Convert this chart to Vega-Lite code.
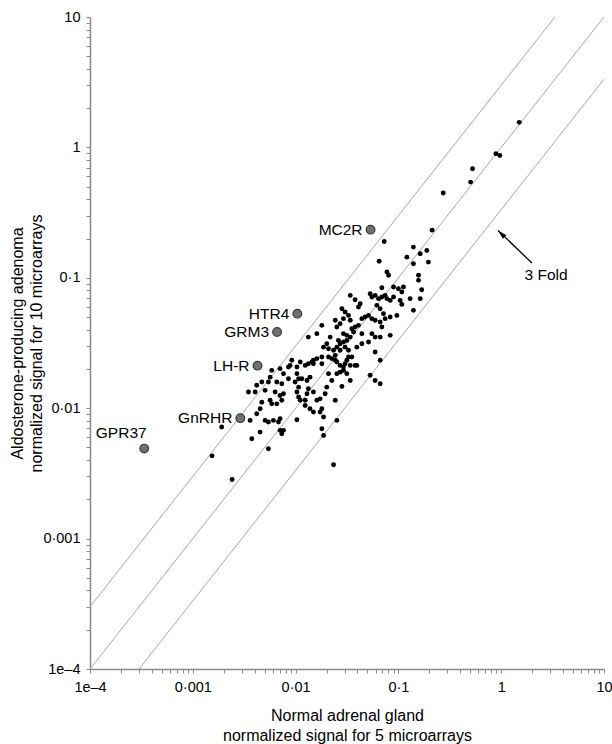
{
  "$schema": "https://vega.github.io/schema/vega-lite/v6.json",
  "width": 514,
  "height": 652,
  "autosize": {"type": "none"},
  "padding": {"left": 90, "top": 17, "right": 8, "bottom": 75},
  "config": {
    "font": "Liberation Sans",
    "view": {"stroke": null},
    "axis": {"grid": false}
  },
  "datasets": {
    "pts": [
      {"x":0.0728,"y":0.190},{"x":0.0650,"y":0.134},{"x":0.140,"y":0.172},{"x":0.163,"y":0.153},{"x":0.189,"y":0.162},
      {"x":0.196,"y":0.132},{"x":0.121,"y":0.144},{"x":0.140,"y":0.128},{"x":0.157,"y":0.1045},{"x":0.157,"y":0.0956},
      {"x":0.0773,"y":0.111},{"x":0.0802,"y":0.1045},{"x":0.0690,"y":0.0839},{"x":0.0897,"y":0.0849},{"x":0.100,"y":0.0825},
      {"x":0.108,"y":0.0778},{"x":0.112,"y":0.0849},{"x":0.130,"y":0.0692},{"x":0.163,"y":0.0692},{"x":0.104,"y":0.0671},
      {"x":0.108,"y":0.0625},{"x":0.0966,"y":0.0515},{"x":0.140,"y":0.0563},{"x":0.0340,"y":0.0733},{"x":0.0379,"y":0.0679},
      {"x":0.0425,"y":0.0633},{"x":0.0409,"y":0.0597},{"x":0.0531,"y":0.0755},{"x":0.0552,"y":0.0712},{"x":0.0594,"y":0.0733},
      {"x":0.0641,"y":0.0692},{"x":0.0690,"y":0.0712},{"x":0.0743,"y":0.0733},{"x":0.0773,"y":0.0692},{"x":0.0832,"y":0.0671},
      {"x":0.0617,"y":0.0615},{"x":0.0665,"y":0.0579},{"x":0.0716,"y":0.0531},{"x":0.0743,"y":0.0486},{"x":0.0897,"y":0.0712},
      {"x":0.0282,"y":0.0579},{"x":0.0303,"y":0.0546},{"x":0.0327,"y":0.0515},{"x":0.0340,"y":0.0472},{"x":0.0292,"y":0.0486},
      {"x":0.0271,"y":0.0445},{"x":0.0252,"y":0.0419},{"x":0.0243,"y":0.0472},{"x":0.0441,"y":0.0486},{"x":0.0475,"y":0.0500},
      {"x":0.0512,"y":0.0515},{"x":0.0552,"y":0.0486},{"x":0.0594,"y":0.0472},{"x":0.0665,"y":0.0458},{"x":0.0409,"y":0.0432},
      {"x":0.0379,"y":0.0419},{"x":0.0352,"y":0.0407},{"x":0.0366,"y":0.0384},{"x":0.0340,"y":0.0351},{"x":0.0315,"y":0.0362},
      {"x":0.0292,"y":0.0373},{"x":0.0315,"y":0.0331},{"x":0.0292,"y":0.0322},{"x":0.0261,"y":0.0331},{"x":0.0271,"y":0.0312},
      {"x":0.0252,"y":0.0294},{"x":0.0303,"y":0.0294},{"x":0.0271,"y":0.0278},{"x":0.0327,"y":0.0278},{"x":0.0327,"y":0.0247},
      {"x":0.0315,"y":0.0233},{"x":0.0352,"y":0.0247},{"x":0.0394,"y":0.0294},{"x":0.0441,"y":0.0373},{"x":0.0441,"y":0.0312},
      {"x":0.0512,"y":0.0322},{"x":0.0552,"y":0.0373},{"x":0.0594,"y":0.0351},{"x":0.0665,"y":0.0351},{"x":0.0832,"y":0.0362},
      {"x":0.0690,"y":0.0419},{"x":0.0832,"y":0.0500},{"x":0.0180,"y":0.0432},{"x":0.0133,"y":0.0351},{"x":0.0161,"y":0.0373},
      {"x":0.0217,"y":0.0351},{"x":0.0201,"y":0.0312},{"x":0.0187,"y":0.0294},{"x":0.0209,"y":0.0286},{"x":0.0234,"y":0.0278},
      {"x":0.0243,"y":0.0254},{"x":0.0209,"y":0.0247},{"x":0.0225,"y":0.0240},{"x":0.0243,"y":0.0233},{"x":0.0252,"y":0.0226},
      {"x":0.0271,"y":0.0213},{"x":0.0292,"y":0.0207},{"x":0.0303,"y":0.0219},{"x":0.0340,"y":0.0213},{"x":0.0379,"y":0.0213},
      {"x":0.0180,"y":0.0247},{"x":0.0161,"y":0.0240},{"x":0.0149,"y":0.0233},{"x":0.0144,"y":0.0226},{"x":0.0133,"y":0.0219},
      {"x":0.0124,"y":0.0213},{"x":0.0111,"y":0.0226},{"x":0.0103,"y":0.0207},{"x":0.00918,"y":0.0233},{"x":0.00885,"y":0.0213},
      {"x":0.00852,"y":0.0207},{"x":0.00706,"y":0.0201},{"x":0.00762,"y":0.0184},{"x":0.00852,"y":0.0168},{"x":0.00734,"y":0.0154},
      {"x":0.00656,"y":0.0159},{"x":0.00565,"y":0.0173},{"x":0.00586,"y":0.0195},{"x":0.00544,"y":0.0159},{"x":0.00469,"y":0.0159},
      {"x":0.00419,"y":0.0150},{"x":0.00404,"y":0.0133},{"x":0.00348,"y":0.0133},{"x":0.00505,"y":0.0137},{"x":0.00632,"y":0.0133},
      {"x":0.00706,"y":0.0125},{"x":0.00762,"y":0.0129},{"x":0.00734,"y":0.0115},{"x":0.00656,"y":0.0108},{"x":0.00586,"y":0.0108},
      {"x":0.00565,"y":0.0115},{"x":0.00469,"y":0.0111},{"x":0.00452,"y":0.00991},{"x":0.00419,"y":0.00907},{"x":0.00361,"y":0.00806},
      {"x":0.00375,"y":0.00583},{"x":0.00452,"y":0.00656},{"x":0.00505,"y":0.00806},{"x":0.00544,"y":0.00783},{"x":0.00609,"y":0.00806},
      {"x":0.00681,"y":0.00783},{"x":0.00706,"y":0.00830},{"x":0.00706,"y":0.00676},{"x":0.00762,"y":0.00676},{"x":0.00734,"y":0.00637},
      {"x":0.00544,"y":0.00489},{"x":0.0103,"y":0.0184},{"x":0.0107,"y":0.0168},{"x":0.00989,"y":0.0159},{"x":0.0107,"y":0.0145},
      {"x":0.0103,"y":0.0133},{"x":0.0107,"y":0.0122},{"x":0.0111,"y":0.0115},{"x":0.0124,"y":0.0115},{"x":0.0129,"y":0.0129},
      {"x":0.0124,"y":0.0105},{"x":0.0138,"y":0.00991},{"x":0.0149,"y":0.00934},{"x":0.0173,"y":0.00934},{"x":0.0180,"y":0.00991},
      {"x":0.0187,"y":0.00855},{"x":0.0180,"y":0.00696},{"x":0.0187,"y":0.00618},{"x":0.0103,"y":0.00816},{"x":0.0115,"y":0.0168},
      {"x":0.0129,"y":0.0163},{"x":0.0138,"y":0.0173},{"x":0.0149,"y":0.0219},{"x":0.0133,"y":0.0141},{"x":0.0149,"y":0.0133},
      {"x":0.0161,"y":0.0115},{"x":0.0173,"y":0.0118},{"x":0.0194,"y":0.0129},{"x":0.0201,"y":0.0145},{"x":0.0225,"y":0.0163},
      {"x":0.0252,"y":0.0184},{"x":0.0271,"y":0.0189},{"x":0.0292,"y":0.0195},{"x":0.0315,"y":0.0184},{"x":0.0340,"y":0.0163},
      {"x":0.0394,"y":0.0213},{"x":0.0243,"y":0.0115},{"x":0.0252,"y":0.00806},{"x":0.0594,"y":0.0270},{"x":0.0665,"y":0.0233},
      {"x":0.0531,"y":0.0179},{"x":0.0594,"y":0.0163},{"x":0.0665,"y":0.0154},{"x":0.00191,"y":0.00717},{"x":0.0282,"y":0.0147},
      {"x":0.0209,"y":0.0184},{"x":0.0180,"y":0.0219},{"x":0.1685,"y":0.0809},{"x":0.00154,"y":0.00431},{"x":0.00241,"y":0.00284},
      {"x":0.0234,"y":0.00368},{"x":1.498,"y":1.556},{"x":0.889,"y":0.895},{"x":0.970,"y":0.866},{"x":0.526,"y":0.686},
      {"x":0.504,"y":0.542},{"x":0.273,"y":0.447},{"x":0.213,"y":0.232}
    ],
    "genes": [
      {"gene":"MC2R","x":0.0536,"y":0.234},
      {"gene":"HTR4","x":0.0104,"y":0.0531},
      {"gene":"GRM3","x":0.0066,"y":0.0384},
      {"gene":"LH-R","x":0.00426,"y":0.0212},
      {"gene":"GnRHR","x":0.0029,"y":0.00839},
      {"gene":"GPR37","x":0.000337,"y":0.0049}
    ],
    "diag": [
      {"fold":"3x","x":0.0001,"y":0.0003},{"fold":"3x","x":3.3333,"y":10},
      {"fold":"1x","x":0.0001,"y":0.0001},{"fold":"1x","x":10,"y":10},
      {"fold":"x/3","x":0.0003,"y":0.0001},{"fold":"x/3","x":10,"y":3.3333}
    ],
    "arrow": [
      {"part":"tail","x":1.99,"y":0.130},
      {"part":"head","x":0.93,"y":0.231}
    ],
    "note": [
      {"label":"3 Fold","x":2.73,"y":0.1057}
    ]
  },
  "encoding": {
    "x": {
      "field": "x", "type": "quantitative",
      "scale": {"type": "log", "domain": [0.0001, 10], "nice": false},
      "axis": {
        "values": [0.0001,0.0002,0.0003,0.0004,0.0005,0.0006,0.0007,0.0008,0.0009,0.001,0.002,0.003,0.004,0.005,0.006,0.007,0.008,0.009,0.01,0.02,0.03,0.04,0.05,0.06,0.07,0.08,0.09,0.1,0.2,0.3,0.4,0.5,0.6,0.7,0.8,0.9,1,2,3,4,5,6,7,8,9,10],
        "labelExpr": "datum.value == 0.0001 ? '1e–4' : datum.value == 0.001 ? '0·001' : datum.value == 0.01 ? '0·01' : datum.value == 0.1 ? '0·1' : datum.value == 1 ? '1' : datum.value == 10 ? '10' : ''",
        "labelOverlap": false, "labelFlush": false, "labelFontSize": 14.5, "labelColor": "#000",
        "labelPadding": 7, "tickSize": 4, "tickColor": "#8a8a8a", "domainColor": "#8a8a8a", "domainWidth": 1.5,
        "title": ["Normal adrenal gland", "normalized signal for 5 microarrays"],
        "titleFontSize": 16, "titleFontWeight": "normal", "titleColor": "#000",
        "titleLineHeight": 20, "titleBaseline": "top", "titleY": 38
      }
    },
    "y": {
      "field": "y", "type": "quantitative",
      "scale": {"type": "log", "domain": [0.0001, 10], "nice": false},
      "axis": {
        "values": [0.0001,0.0002,0.0003,0.0004,0.0005,0.0006,0.0007,0.0008,0.0009,0.001,0.002,0.003,0.004,0.005,0.006,0.007,0.008,0.009,0.01,0.02,0.03,0.04,0.05,0.06,0.07,0.08,0.09,0.1,0.2,0.3,0.4,0.5,0.6,0.7,0.8,0.9,1,2,3,4,5,6,7,8,9,10],
        "labelExpr": "datum.value == 0.0001 ? '1e–4' : datum.value == 0.001 ? '0·001' : datum.value == 0.01 ? '0·01' : datum.value == 0.1 ? '0·1' : datum.value == 1 ? '1' : datum.value == 10 ? '10' : ''",
        "labelOverlap": false, "labelFlush": false, "labelFontSize": 14.5, "labelColor": "#000",
        "labelPadding": 6, "tickSize": 4, "tickColor": "#8a8a8a", "domainColor": "#8a8a8a", "domainWidth": 1.5,
        "title": ["Aldosterone-producing adenoma", "normalized signal for 10 microarrays"],
        "titleFontSize": 16, "titleFontWeight": "normal", "titleColor": "#000",
        "titleLineHeight": 19.5, "titleAngle": -90, "titleBaseline": "top", "titleAlign": "center",
        "titleX": -81, "titleY": 326
      }
    }
  },
  "layer": [
    {
      "data": {"name": "diag"},
      "mark": {"type": "line", "color": "#a8a8a8", "strokeWidth": 1, "clip": true},
      "encoding": {"detail": {"field": "fold"}}
    },
    {
      "data": {"name": "pts"},
      "mark": {"type": "point", "filled": true, "color": "#000", "size": 24, "opacity": 1}
    },
    {
      "data": {"name": "genes"},
      "mark": {"type": "point", "filled": true, "fill": "#707070", "stroke": "#3a3a3a", "strokeWidth": 1.2, "size": 76, "opacity": 1}
    },
    {
      "data": {"name": "genes"},
      "transform": [{"filter": "datum.gene != 'GPR37'"}],
      "mark": {"type": "text", "align": "right", "baseline": "middle", "dx": -8, "fontSize": 15.5, "color": "#000"},
      "encoding": {"text": {"field": "gene"}}
    },
    {
      "data": {"name": "genes"},
      "transform": [{"filter": "datum.gene == 'GPR37'"}],
      "mark": {"type": "text", "align": "center", "baseline": "middle", "dx": -23, "dy": -16, "fontSize": 15.5, "color": "#000"},
      "encoding": {"text": {"field": "gene"}}
    },
    {
      "data": {"name": "arrow"},
      "mark": {"type": "line", "color": "#000", "strokeWidth": 1.3},
      "encoding": {}
    },
    {
      "data": {"name": "arrow"},
      "transform": [{"filter": "datum.part == 'head'"}],
      "mark": {"type": "point", "filled": true, "color": "#000", "opacity": 1, "size": 100, "shape": "M0,0L0.5,1.9L-0.5,1.9Z", "angle": 315}
    },
    {
      "data": {"name": "note"},
      "mark": {"type": "text", "align": "center", "baseline": "middle", "fontSize": 15.5, "color": "#000"},
      "encoding": {"text": {"field": "label"}}
    }
  ]
}
